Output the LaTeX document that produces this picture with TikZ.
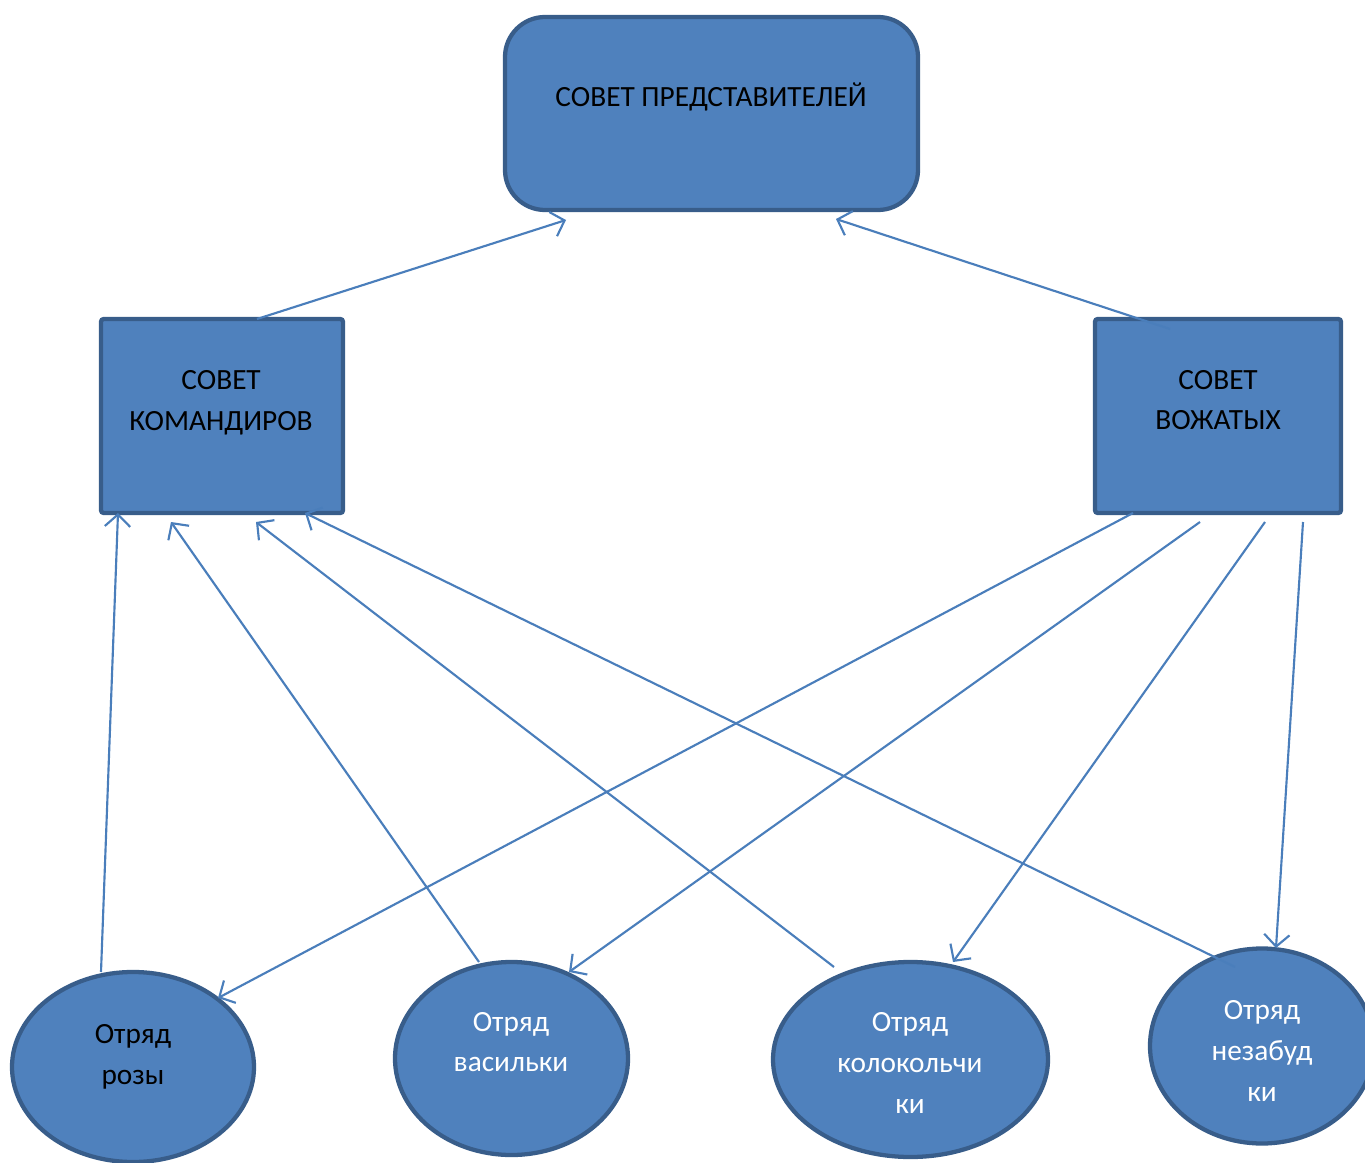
\documentclass[tikz,border=0pt]{standalone}
\usepackage{fontspec}
\setmainfont{Carlito}
\usetikzlibrary{shapes.geometric,arrows.meta}
\definecolor{fillb}{HTML}{4F81BD}
\definecolor{edgeb}{HTML}{385D8A}
\definecolor{lineb}{HTML}{4A7EBB}
\begin{document}
\begin{tikzpicture}[x=0.75pt,y=-0.75pt,
  shapebox/.style={draw=edgeb,fill=fillb,line width=3.2pt,inner sep=0pt},
  oval/.style={shapebox,ellipse},
  lbl/.style={align=center,font=\fontsize{22}{30.5}\selectfont,inner sep=0pt},
  conn/.style={draw=lineb,line width=1.6pt,-{Straight Barb[length=9pt,width=19pt,line width=1.6pt]}}]
\path[use as bounding box] (0,0) rectangle (1365,1163);

% boxes
\node[shapebox,rounded corners=30pt,minimum width=309.75pt,minimum height=144.75pt] (sp) at (711.5,113.5) {};
\node[shapebox,rounded corners=2pt,minimum width=181.5pt,minimum height=145.5pt] (kom) at (222,416) {};
\node[shapebox,rounded corners=2pt,minimum width=184.5pt,minimum height=145.5pt] (voz) at (1218,416) {};

% ellipses
\node[oval,minimum width=181.5pt,minimum height=142.5pt] (roz) at (133,1067) {};
\node[oval,minimum width=174.75pt,minimum height=144.75pt] (vas) at (511.5,1058.5) {};
\node[oval,minimum width=206.25pt,minimum height=146.25pt] (kol) at (910.5,1059.5) {};
\node[oval,minimum width=168pt,minimum height=146.25pt] (nez) at (1262,1046) {};

% labels
\node[lbl] (tsp) at (711,97) {СОВЕТ ПРЕДСТАВИТЕЛЕЙ};
\node[lbl] (tkom) at (221,403) {СОВЕТ\\КОМАНДИРОВ};
\node[lbl] (tvoz) at (1218,400) {СОВЕТ\\ВОЖАТЫХ};
\node[lbl] (troz) at (133,1057) {Отряд\\розы};
\node[lbl,white] (tvas) at (511,1042) {Отряд\\васильки};
\node[lbl,white] (tkol) at (910,1063) {Отряд\\колокольчи\\ки};
\node[lbl,white] (tnez) at (1262,1051) {Отряд\\незабуд\\ки};

% connector end points
\coordinate (a1) at (257,319);  \coordinate (b1) at (566,220);
\coordinate (a2) at (1170,329); \coordinate (b2) at (836,219);
\coordinate (a3) at (101,972);  \coordinate (b3) at (118,513);
\coordinate (a4) at (479,962);  \coordinate (b4) at (171,522);
\coordinate (a5) at (834,967);  \coordinate (b5) at (256,522);
\coordinate (a6) at (1235,967); \coordinate (b6) at (305,513);
\coordinate (a7) at (1133,513); \coordinate (b7) at (218,998);
\coordinate (a8) at (1200,522); \coordinate (b8) at (569,972);
\coordinate (a9) at (1265,522); \coordinate (b9) at (953,962);
\coordinate (a10) at (1303,522); \coordinate (b10) at (1276,948);

\foreach \i in {1,...,10} { \draw[conn] (a\i) -- (b\i); }
\end{tikzpicture}
\end{document}
